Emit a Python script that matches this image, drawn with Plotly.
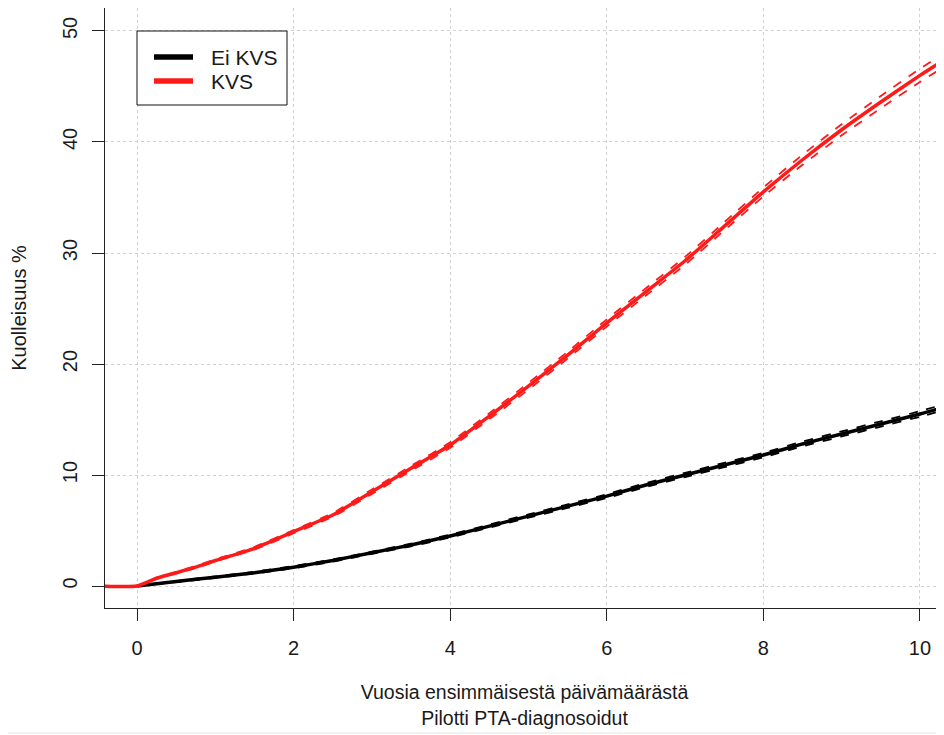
import plotly.graph_objects as go

# ---- data ----
red_x = [-0.5, 0, 0.25, 0.5, 0.75, 1, 1.5, 2, 2.5, 3, 3.5, 4, 4.5, 5, 5.5, 6, 6.5, 7, 7.5, 8, 8.5, 9, 9.5, 10, 10.4]
red_y = [0, 0, 0.7, 1.2, 1.7, 2.3, 3.4, 4.9, 6.4, 8.5, 10.6, 12.7, 15.3, 18.0, 20.8, 23.7, 26.5, 29.3, 32.4, 35.5, 38.4, 41.1, 43.6, 46.0, 47.8]
red_upper = [0, 0, 0.75, 1.28, 1.8, 2.4, 3.52, 5.05, 6.57, 8.7, 10.82, 12.95, 15.57, 18.3, 21.1, 24.02, 26.83, 29.65, 32.77, 35.9, 38.85, 41.6, 44.15, 46.6, 48.42]
red_lower = [0, 0, 0.65, 1.12, 1.6, 2.2, 3.28, 4.75, 6.23, 8.3, 10.38, 12.45, 15.03, 17.7, 20.5, 23.38, 26.17, 28.95, 32.03, 35.1, 37.95, 40.6, 43.05, 45.4, 47.18]

black_x = [0, 0.5, 1, 1.5, 2, 2.5, 3, 3.5, 4, 4.5, 5, 5.5, 6, 6.5, 7, 7.5, 8, 8.5, 9, 9.5, 10, 10.4]
black_y = [0, 0.4, 0.8, 1.2, 1.7, 2.3, 3.0, 3.7, 4.5, 5.4, 6.3, 7.2, 8.1, 9.1, 10.0, 10.9, 11.8, 12.8, 13.7, 14.6, 15.5, 16.3]
black_upper = [0, 0.45, 0.87, 1.28, 1.8, 2.4, 3.1, 3.82, 4.63, 5.54, 6.45, 7.36, 8.27, 9.28, 10.19, 11.1, 12.0, 13.02, 13.93, 14.84, 15.75, 16.56]
black_lower = [0, 0.35, 0.73, 1.12, 1.6, 2.2, 2.9, 3.58, 4.37, 5.26, 6.15, 7.04, 7.93, 8.92, 9.81, 10.7, 11.6, 12.58, 13.47, 14.36, 15.25, 16.04]

series_names = ["Ei KVS", "KVS"]
x_ticks = [0, 2, 4, 6, 8, 10]
y_ticks = [0, 10, 20, 30, 40, 50]

RED = "#ff1a1a"
BLACK = "#000000"
FONT = "Liberation Sans, Arial, sans-serif"
TXT = "#1a1a1a"

# page body has an 8px margin: figure is placed at (8, 8) in the window
W, H = 936, 727
ML, MR, MT, MB = 97, 0, 0, 127
PW, PH = W - ML - MR, H - MT - MB


def px_to_paper_x(px):  # window pixel -> paper coordinate
    return (px - 8 - ML) / PW


def px_to_paper_y(py):
    return (H - MB - (py - 8)) / PH


fig = go.Figure()


def add_curve(x, y, lo, hi, color, name):
    for band in (lo, hi):
        fig.add_trace(go.Scatter(x=x, y=band, mode="lines", showlegend=False, hoverinfo="skip",
                                 line=dict(color=color, width=1.8, dash="dash", shape="spline", smoothing=0.5)))
    fig.add_trace(go.Scatter(x=x, y=y, mode="lines", showlegend=False, name=name,
                             line=dict(color=color, width=3.5, shape="spline", smoothing=0.5)))


add_curve(black_x, black_y, black_lower, black_upper, BLACK, series_names[0])
add_curve(red_x, red_y, red_lower, red_upper, RED, series_names[1])

axis_common = dict(
    showgrid=True, gridcolor="#d0d0d0", griddash="dot", gridwidth=1,
    zeroline=False, showline=True, linecolor="#222222", linewidth=1,
    ticks="outside", ticklen=12, tickcolor="#222222", tickwidth=1,
    tickfont=dict(family=FONT, size=20, color=TXT),
)

fig.update_layout(
    width=W, height=H,
    margin=dict(l=ML, r=MR, t=MT, b=MB),
    paper_bgcolor="white", plot_bgcolor="white",
    font=dict(family=FONT, size=20, color=TXT),
    xaxis=dict(range=[-0.409, 10.307], tickvals=x_ticks, mirror=True, ticklabelstandoff=10,
               title=dict(text="Vuosia ensimmäisestä päivämäärästä<br>Pilotti PTA-diagnosoidut",
                          font=dict(family=FONT, size=19.5, color=TXT), standoff=27),
               **axis_common),
    yaxis=dict(range=[-1.98, 52.07], tickvals=y_ticks, tickangle=-90, ticklabelstandoff=7,
               title=dict(text="Kuolleisuus %", font=dict(family=FONT, size=20, color=TXT), standoff=30),
               **axis_common),
    showlegend=False,
)

# legend (drawn like R's legend box)
fig.add_shape(type="rect", xref="paper", yref="paper",
              x0=px_to_paper_x(137), x1=px_to_paper_x(287), y0=px_to_paper_y(105), y1=px_to_paper_y(31),
              line=dict(color="#111111", width=1), fillcolor="white", layer="above")
legend_colors = [BLACK, RED]
legend_rows = [57, 81]
for name, col, row in zip(series_names, legend_colors, legend_rows):
    fig.add_shape(type="line", xref="paper", yref="paper",
                  x0=px_to_paper_x(154), x1=px_to_paper_x(193),
                  y0=px_to_paper_y(row), y1=px_to_paper_y(row),
                  line=dict(color=col, width=5.5), layer="above")
    fig.add_annotation(xref="paper", yref="paper", x=px_to_paper_x(209), y=px_to_paper_y(row),
                       text=name, showarrow=False, xanchor="left", yanchor="middle",
                       font=dict(family=FONT, size=21, color=TXT))

# faint line at the bottom of the page
fig.add_shape(type="line", xref="paper", yref="paper", x0=-0.2, x1=1.1,
              y0=px_to_paper_y(733), y1=px_to_paper_y(733),
              line=dict(color="#e3e3e3", width=1))

fig.write_html("out.html")
